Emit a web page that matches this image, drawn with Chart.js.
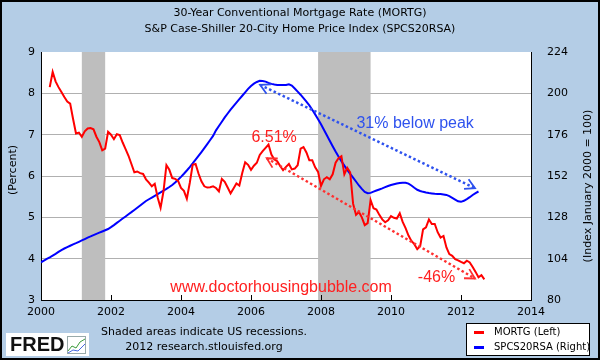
<!DOCTYPE html>
<html>
<head>
<meta charset="utf-8">
<script src="https://cdn.jsdelivr.net/npm/chart.js"></script>
<style>
html, body { margin: 0; padding: 0; background: #b4cde6; }
canvas { display: block; }
</style>
</head>
<body>
<canvas id="chart" width="600" height="360"></canvas>
<script>
// monthly series, first value = first month shown
const mortgStart = 2000 + 3 / 12; // April 2000
const mortgRate = [
  8.15, 8.52, 8.29, 8.15, 8.03, 7.91, 7.80, 7.75, 7.38,
  7.03, 7.05, 6.95, 7.08, 7.15, 7.16, 7.13, 6.95, 6.82, 6.62, 6.66, 7.07,
  7.00, 6.89, 7.01, 6.99, 6.81, 6.65, 6.49, 6.29, 6.09, 6.11, 6.07, 6.05,
  5.92, 5.84, 5.75, 5.81, 5.48, 5.23, 5.63, 6.26, 6.15, 5.95, 5.93, 5.88,
  5.71, 5.64, 5.45, 5.83, 6.27, 6.29, 6.06, 5.87, 5.75, 5.72, 5.73, 5.75,
  5.71, 5.63, 5.93, 5.86, 5.72, 5.58, 5.70, 5.82, 5.77, 6.07, 6.33, 6.27,
  6.15, 6.25, 6.32, 6.51, 6.60, 6.68, 6.76, 6.52, 6.40, 6.36, 6.24, 6.14,
  6.22, 6.29, 6.16, 6.18, 6.26, 6.66, 6.70, 6.57, 6.38, 6.38, 6.21, 6.10,
  5.76, 5.92, 5.97, 5.92, 6.04, 6.32, 6.43, 6.48, 6.04, 6.20, 6.09, 5.33,
  5.06, 5.13, 5.00, 4.81, 4.86, 5.42, 5.22, 5.19, 5.06, 4.95, 4.88, 4.93,
  5.03, 4.99, 4.97, 5.10, 4.89, 4.74, 4.56, 4.43, 4.35, 4.23, 4.30, 4.71,
  4.76, 4.95, 4.84, 4.84, 4.64, 4.51, 4.55, 4.27, 4.11, 4.07, 3.99, 3.96,
  3.92, 3.89, 3.95, 3.91, 3.80, 3.68, 3.55, 3.60, 3.50
];

const hpiStart = 2000; // January 2000
const homePrice = [
  101.9, 102.9, 103.9, 104.8, 105.8, 106.8, 107.9, 109.0, 109.9, 110.7, 111.5, 112.3,
  113.0, 113.8, 114.6, 115.4, 116.2, 116.9, 117.7, 118.4, 119.1, 119.8, 120.5, 121.2,
  122.3, 123.5, 124.8, 126.0, 127.3, 128.5, 129.8, 131.0, 132.3, 133.6, 134.9, 136.2,
  137.5, 138.5, 139.5, 140.5, 141.5, 142.5, 143.5, 144.5, 145.6, 146.8, 148.2, 149.8,
  151.5, 153.3, 155.2, 157.2, 159.3, 161.5, 163.7, 165.9, 168.2, 170.5, 172.9, 175.3,
  178.5, 181.0, 183.5, 186.0, 188.3, 190.5, 192.6, 194.6, 196.6, 198.6, 200.6, 202.6,
  204.3, 205.6, 206.6, 207.3, 207.2, 206.8, 206.1, 205.5, 205.1, 204.9, 204.8, 204.8,
  204.8, 205.2, 204.5, 202.8, 201.0, 199.2, 197.2, 195.2, 193.0, 190.5, 187.8, 185.0,
  182.0, 178.9, 175.7, 172.5, 169.3, 166.2, 163.3, 160.6, 158.0, 155.5, 153.2, 151.0,
  148.8, 146.5, 144.5, 142.8, 142.0, 142.2, 142.9, 143.6, 144.2, 144.8, 145.5, 146.2,
  146.8, 147.2, 147.6, 147.9, 148.1, 148.1, 147.6, 146.5, 145.2, 144.0, 143.3, 142.8,
  142.4, 142.1, 141.9, 141.7, 141.6, 141.5, 141.3, 141.0, 140.3, 139.3, 138.3, 137.3,
  137.0, 137.6, 138.6, 139.7, 141.0, 142.1, 143.0
];

const recessions = [[2001 + 2 / 12, 2001 + 10 / 12], [2007 + 11 / 12, 2009 + 5 / 12]];
const yearTicks = [2000, 2002, 2004, 2006, 2008, 2010, 2012, 2014];
const leftTicks = [3, 4, 5, 6, 7, 8, 9];
const rightTicks = [80, 104, 128, 152, 176, 200, 224];

const titleLines = ['30-Year Conventional Mortgage Rate (MORTG)', 'S&P Case-Shiller 20-City Home Price Index (SPCS20RSA)'];
const seriesNames = ['MORTG (Left)', 'SPCS20RSA (Right)'];

// annotations, in data units
const notes = {
  blueArrow: { from: [2006.26, 204.9], to: [2012.4, 144.9] },
  redArrow: { from: [2006.45, 6.43], to: [2012.4, 3.52] },
  blueText: { at: [2010.69, 180.0], text: '31% below peak' },
  peakText: { at: [2006.66, 6.82], text: '6.51%' },
  dropText: { at: [2011.3, 3.43], text: '-46%' },
  siteText: { at: [2006.86, 3.19], text: 'www.doctorhousingbubble.com' }
};

const toPoints = (start, vals) => vals.map((v, i) => ({ x: start + i / 12, y: v }));

const FONT = '"DejaVu Sans", Verdana, sans-serif';
const RED = '#ff0000';
const BLUE = '#0000ff';

function arrowHead(c, x, y, ang) {
  const len = 11, spread = 0.5;
  c.beginPath();
  c.moveTo(x + len * Math.cos(ang + Math.PI - spread), y + len * Math.sin(ang + Math.PI - spread));
  c.lineTo(x, y);
  c.lineTo(x + len * Math.cos(ang + Math.PI + spread), y + len * Math.sin(ang + Math.PI + spread));
  c.stroke();
}

function dottedArrow(c, x1, y1, x2, y2, color) {
  c.save();
  c.strokeStyle = color;
  c.lineWidth = 2.5;
  c.setLineDash([2.5, 2.5]);
  c.beginPath();
  c.moveTo(x1, y1);
  c.lineTo(x2, y2);
  c.stroke();
  c.setLineDash([]);
  c.lineWidth = 1.8;
  const ang = Math.atan2(y2 - y1, x2 - x1);
  arrowHead(c, x2, y2, ang);
  arrowHead(c, x1, y1, ang + Math.PI);
  c.restore();
}

const decor = {
  id: 'decor',
  beforeDraw(chart) {
    const c = chart.ctx, a = chart.chartArea;
    c.save();
    c.fillStyle = '#b4cde6';
    c.fillRect(0, 0, chart.width, chart.height);
    c.fillStyle = '#ffffff';
    c.fillRect(a.left, a.top, a.right - a.left, a.bottom - a.top);
    c.restore();
  },
  beforeDatasetsDraw(chart) {
    const c = chart.ctx, a = chart.chartArea, xs = chart.scales.x;
    c.save();
    c.fillStyle = '#bebebe';
    recessions.forEach(([s, e]) => {
      const x1 = xs.getPixelForValue(s), x2 = xs.getPixelForValue(e);
      c.fillRect(x1, a.top, x2 - x1, a.bottom - a.top);
    });
    c.restore();
  },
  afterDatasetsDraw(chart) {
    const c = chart.ctx, xs = chart.scales.x, yl = chart.scales.y, yr = chart.scales.y1;
    const b = notes.blueArrow, r = notes.redArrow;
    dottedArrow(c, xs.getPixelForValue(b.from[0]), yr.getPixelForValue(b.from[1]),
      xs.getPixelForValue(b.to[0]), yr.getPixelForValue(b.to[1]), '#2e52ee');
    dottedArrow(c, xs.getPixelForValue(r.from[0]), yl.getPixelForValue(r.from[1]),
      xs.getPixelForValue(r.to[0]), yl.getPixelForValue(r.to[1]), '#ff3030');

    c.save();
    c.font = '16px "Liberation Sans", Arial, sans-serif';
    c.textAlign = 'center';
    c.textBaseline = 'alphabetic';
    c.fillStyle = '#2e52ee';
    c.fillText(notes.blueText.text, xs.getPixelForValue(notes.blueText.at[0]), yr.getPixelForValue(notes.blueText.at[1]));
    c.fillStyle = '#ff2020';
    [notes.peakText, notes.dropText, notes.siteText].forEach(n => {
      c.fillText(n.text, xs.getPixelForValue(n.at[0]), yl.getPixelForValue(n.at[1]));
    });
    c.restore();
  },
  afterDraw(chart) {
    const c = chart.ctx, a = chart.chartArea, xs = chart.scales.x;
    c.save();
    // inward ticks on the date axis
    c.strokeStyle = '#000';
    c.lineWidth = 1;
    yearTicks.forEach(t => {
      const x = Math.round(xs.getPixelForValue(t)) + 0.5;
      c.beginPath();
      c.moveTo(x, a.bottom);
      c.lineTo(x, a.bottom - 5);
      c.stroke();
    });

    // titles
    c.fillStyle = '#000';
    c.font = '11px ' + FONT;
    c.textAlign = 'center';
    c.textBaseline = 'middle';
    c.fillText(titleLines[0], 300, 13);
    c.fillText(titleLines[1], 300, 29);

    // axis titles
    c.save();
    c.translate(13, 170);
    c.rotate(-Math.PI / 2);
    c.fillText('(Percent)', 0, 0);
    c.restore();
    c.save();
    c.translate(588, 186);
    c.rotate(-Math.PI / 2);
    c.fillText('(Index January 2000 = 100)', 0, 0);
    c.restore();

    // footer
    c.fillText('Shaded areas indicate US recessions.', 204, 332);
    c.fillText('2012 research.stlouisfed.org', 204, 347);

    // FRED logo
    c.fillStyle = '#fff';
    c.fillRect(6, 333, 83, 23);
    c.fillStyle = '#111';
    c.font = 'bold 20px "Liberation Sans", Arial, sans-serif';
    c.textAlign = 'left';
    c.fillText('FRED', 10, 345);
    c.strokeStyle = '#9aa';
    c.lineWidth = 1;
    c.strokeRect(67.5, 336.5, 18, 17);
    c.strokeStyle = '#3a9a3a';
    c.beginPath();
    c.moveTo(68, 351); c.lineTo(72, 346); c.lineTo(76, 348); c.lineTo(80, 342); c.lineTo(85, 339);
    c.stroke();
    c.strokeStyle = '#4a6adf';
    c.beginPath();
    c.moveTo(68, 353); c.lineTo(73, 350); c.lineTo(78, 351); c.lineTo(85, 344);
    c.stroke();

    // legend
    c.fillStyle = '#fff';
    c.fillRect(466, 323, 124, 33);
    c.strokeStyle = '#000';
    c.lineWidth = 1;
    c.strokeRect(466.5, 323.5, 123, 32);
    c.font = '10px ' + FONT;
    c.textAlign = 'left';
    [[RED, seriesNames[0], 332], [BLUE, seriesNames[1], 347]].forEach(([col, txt, y]) => {
      c.fillStyle = col;
      c.fillRect(474, y - 1, 10, 3);
      c.fillStyle = '#000';
      c.fillText(txt, 494, y);
    });

    // outer frame
    c.strokeStyle = '#000';
    c.lineWidth = 2;
    c.strokeRect(1, 1, chart.width - 2, chart.height - 2);
    c.restore();
  }
};

new Chart(document.getElementById('chart').getContext('2d'), {
  type: 'line',
  data: {
    datasets: [
      { label: seriesNames[0], data: toPoints(mortgStart, mortgRate), yAxisID: 'y',
        borderColor: RED, borderWidth: 2, pointRadius: 0, tension: 0 },
      { label: seriesNames[1], data: toPoints(hpiStart, homePrice), yAxisID: 'y1',
        borderColor: BLUE, borderWidth: 2, pointRadius: 0, tension: 0 }
    ]
  },
  options: {
    responsive: false,
    animation: false,
    devicePixelRatio: 1,
    layout: { padding: { top: 52 } },
    plugins: { legend: { display: false }, tooltip: { enabled: false } },
    scales: {
      x: {
        type: 'linear', min: 2000, max: 2014,
        afterBuildTicks: s => { s.ticks = yearTicks.map(v => ({ value: v })); },
        ticks: { callback: v => String(v), color: '#000', font: { family: FONT, size: 11 }, padding: 6, maxRotation: 0, autoSkip: false },
        grid: { display: false, drawTicks: false },
        border: { color: '#000', width: 1 },
        afterFit: s => { s.height = 60; }
      },
      y: {
        position: 'left', min: 3, max: 9,
        afterBuildTicks: s => { s.ticks = leftTicks.map(v => ({ value: v })); },
        ticks: { color: '#000', font: { family: FONT, size: 11 }, padding: 6 },
        grid: { color: ctx => (ctx.tick && (ctx.tick.value === 9 || ctx.tick.value === 3)) ? 'rgba(0,0,0,0)' : '#b0b0b0', drawTicks: false },
        border: { color: '#000', width: 1 },
        afterFit: s => { s.width = 41; }
      },
      y1: {
        position: 'right', min: 80, max: 224,
        afterBuildTicks: s => { s.ticks = rightTicks.map(v => ({ value: v })); },
        ticks: { color: '#000', font: { family: FONT, size: 11 }, padding: 16 },
        grid: { drawOnChartArea: false, drawTicks: false },
        border: { color: '#000', width: 1 },
        afterFit: s => { s.width = 69; }
      }
    }
  },
  plugins: [decor]
});
</script>
</body>
</html>
